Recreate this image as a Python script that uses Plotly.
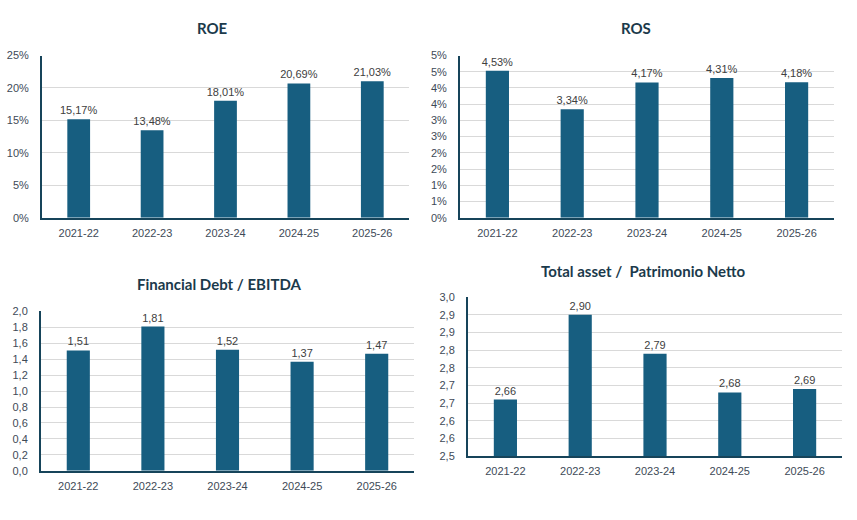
import plotly.graph_objects as go

categories = ["2021-22", "2022-23", "2023-24", "2024-25", "2025-26"]
roe = [15.17, 13.48, 18.01, 20.69, 21.03]
ros = [4.53, 3.34, 4.17, 4.31, 4.18]
debt_ebitda = [1.51, 1.81, 1.52, 1.37, 1.47]
asset_equity = [2.66, 2.90, 2.79, 2.68, 2.69]

roe_ticks = [0, 5, 10, 15, 20, 25]
roe_ticktext = ["0%", "5%", "10%", "15%", "20%", "25%"]
ros_ticks = [0, 0.5, 1, 1.5, 2, 2.5, 3, 3.5, 4, 4.5, 5]
ros_ticktext = ["0%", "1%", "1%", "2%", "2%", "3%", "3%", "4%", "4%", "5%", "5%"]
de_ticks = [0, 0.2, 0.4, 0.6, 0.8, 1.0, 1.2, 1.4, 1.6, 1.8, 2.0]
de_ticktext = ["0,0", "0,2", "0,4", "0,6", "0,8", "1,0", "1,2", "1,4", "1,6", "1,8", "2,0"]
ae_ticks = [2.5, 2.55, 2.6, 2.65, 2.7, 2.75, 2.8, 2.85, 2.9, 2.95]
ae_ticktext = ["2,5", "2,6", "2,6", "2,7", "2,7", "2,8", "2,8", "2,9", "2,9", "3,0"]

BAR = "#175E80"
AXIS = "#16445A"
GRID = "#D9D9D9"
TICK = "#3E4A57"
TITLE = "#1B3A4B"
FONT = "Liberation Sans, Arial, sans-serif"


def fmt(v, pct=False):
    s = f"{v:.2f}".replace(".", ",")
    return s + "%" if pct else s


fig = go.Figure()

panels = [
    (roe, True, "x", "y"),
    (ros, True, "x2", "y2"),
    (debt_ebitda, False, "x3", "y3"),
    (asset_equity, False, "x4", "y4"),
]
for vals, pct, xa, ya in panels:
    fig.add_trace(go.Bar(
        x=categories, y=vals, xaxis=xa, yaxis=ya,
        marker=dict(color=BAR, line=dict(width=0)),
        width=0.31,
        text=[fmt(v, pct) for v in vals],
        textposition="outside",
        constraintext="none",
        textfont=dict(family=FONT, size=11, color="#404040"),
        cliponaxis=False,
        showlegend=False,
        hoverinfo="skip",
    ))

W, H = 857, 520


def xd(l, r):
    return [l / W, r / W]


def yd(top, bottom):
    return [1 - bottom / H, 1 - top / H]


xcommon = dict(showline=True, linewidth=2, linecolor=AXIS, showgrid=False,
               ticks="", ticklabelstandoff=4,
               tickfont=dict(family=FONT, size=11, color=TICK),
               fixedrange=True)
ycommon = dict(showline=True, linewidth=2, linecolor=AXIS, showgrid=True,
               gridcolor=GRID, gridwidth=1, zeroline=False, ticks="",
               ticklabelstandoff=9,
               tickfont=dict(family=FONT, size=11, color=TICK), fixedrange=True)

fig.update_layout(
    width=W, height=H,
    margin=dict(l=0, r=0, t=0, b=0),
    paper_bgcolor="white", plot_bgcolor="white",
    xaxis=dict(domain=xd(42, 409), anchor="y", **xcommon),
    yaxis=dict(domain=yd(50.7, 216.7), anchor="x", range=[0, 25],
               tickvals=roe_ticks, ticktext=roe_ticktext, **ycommon),
    xaxis2=dict(domain=xd(460, 834), anchor="y2", **xcommon),
    yaxis2=dict(domain=yd(50.7, 216.7), anchor="x2", range=[0, 5],
                tickvals=ros_ticks, ticktext=ros_ticktext, **ycommon),
    xaxis3=dict(domain=xd(41, 414), anchor="y3", **xcommon),
    yaxis3=dict(domain=yd(312.7, 475.7), anchor="x3", range=[0, 2.0],
                tickvals=de_ticks, ticktext=de_ticktext, **ycommon),
    xaxis4=dict(domain=xd(468, 842), anchor="y4", **xcommon),
    yaxis4=dict(domain=yd(298, 460.7), anchor="x4", range=[2.5, 2.95],
                tickvals=ae_ticks, ticktext=ae_ticktext, **ycommon),
)

titles = [
    ("ROE", 212, 23),
    ("ROS", 636, 23),
    ("Financial Debt / EBITDA", 219, 285),
    ("Total asset /  Patrimonio Netto", 643, 271),
]
for t, x, y in titles:
    fig.add_annotation(
        text=f"<b>{t}</b>", x=x / W, y=1 - y / H, xref="paper", yref="paper",
        xanchor="center", yanchor="middle", showarrow=False,
        font=dict(family="Lato, Open Sans, sans-serif", size=15, color=TITLE),
    )

fig.write_html("out.html")
